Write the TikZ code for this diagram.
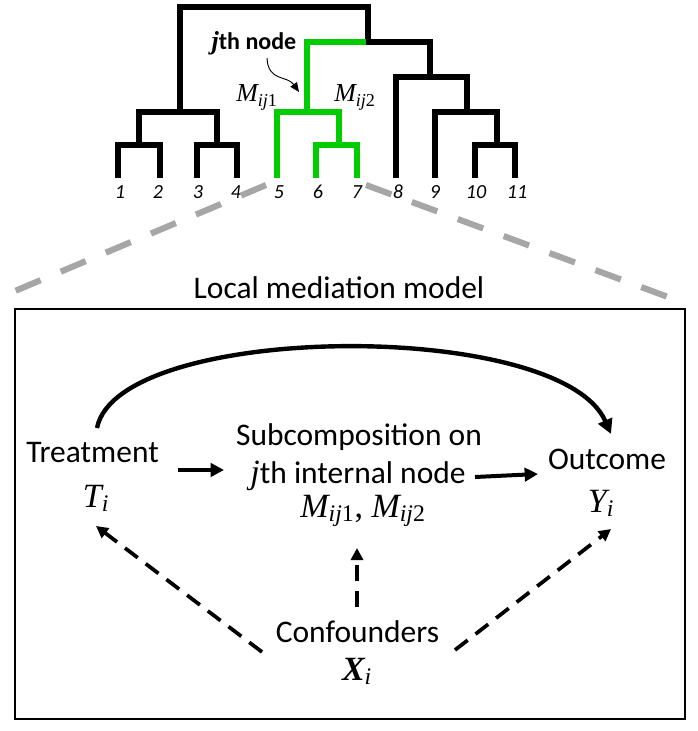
\documentclass[tikz,border=0pt]{standalone}
\usepackage{amsmath}
\usepackage{fontspec}
\setmainfont{Carlito}
\newfontfamily\libserif[Scale=1.08]{Liberation Serif}
\newcommand{\mvar}[1]{\text{\libserif\itshape #1}}
\newcommand{\mnum}[1]{\text{\libserif\upshape #1}}
\newcommand{\mbvar}[1]{\text{\libserif\bfseries\itshape #1}}
\usetikzlibrary{arrows.meta}
\definecolor{treegreen}{RGB}{0,204,0}
\definecolor{zoomgray}{RGB}{166,166,166}
\tikzset{
  branch/.style={line width=4.2pt, line join=miter},
  blackbranch/.style={branch, black},
  greenbranch/.style={branch, treegreen},
  leaflabel/.style={anchor=base, inner sep=0pt, font=\fontsize{15}{18}\selectfont\itshape},
  treelabel/.style={anchor=base, inner sep=0pt, font=\fontsize{18}{21}\selectfont},
  maintext/.style={anchor=base, inner sep=0pt, font=\fontsize{23.6}{28}\selectfont},
  zoomline/.style={zoomgray, line width=4.6pt, dash pattern=on 20.3pt off 16.4pt},
  modelbox/.style={draw=black, line width=1.6pt},
  solidarrow/.style={line width=3pt, -{Triangle[length=10pt,width=10pt]}},
  dasharrow/.style={line width=2.8pt, dash pattern=on 12pt off 7.5pt, -{Triangle[length=9pt,width=9pt]}},
  thinarrow/.style={line width=0.7pt, -{Triangle[length=7pt,width=6pt]}}
}
\begin{document}
\begin{tikzpicture}[x=0.75pt,y=-0.75pt]
\useasboundingbox (0,0) rectangle (698,731);
\fill[white] (0,0) rectangle (698,731);

% ---------- tree ----------
\draw[blackbranch] (118,178) -- (118,145) -- (160,145) -- (160,178);
\draw[blackbranch] (197,178) -- (197,145) -- (237,145) -- (237,178);
\draw[blackbranch] (139,145) -- (139,112) -- (217,112) -- (217,145);
\draw[blackbranch] (180,112) -- (180,7) -- (368,7) -- (368,42);
\draw[greenbranch] (368,42) -- (307,42) -- (307,112);
\draw[greenbranch] (277,178) -- (277,112) -- (339,112) -- (339,145);
\draw[greenbranch] (316,178) -- (316,145) -- (357,145) -- (357,178);
\draw[blackbranch] (365.5,42) -- (430,42) -- (430,77);
\draw[blackbranch] (396,178) -- (396,77) -- (467,77) -- (467,112);
\draw[blackbranch] (435,178) -- (435,112) -- (497,112) -- (497,145);
\draw[blackbranch] (475,178) -- (475,145) -- (515,145) -- (515,178);

\node[leaflabel] (l1) at (120,198) {1};
\node[leaflabel] (l2) at (158,198) {2};
\node[leaflabel] (l3) at (198,198) {3};
\node[leaflabel] (l4) at (236,198) {4};
\node[leaflabel] (l5) at (279,198) {5};
\node[leaflabel] (l6) at (318,198) {6};
\node[leaflabel] (l7) at (357,198) {7};
\node[leaflabel] (l8) at (398,198) {8};
\node[leaflabel] (l9) at (435,198) {9};
\node[leaflabel] (l10) at (476,198) {10};
\node[leaflabel] (l11) at (517,198) {11};

\node[treelabel] (jnode) at (254,50) {$\mbvar{j}$\textbf{th node}};
\node[treelabel] (m1) at (257,102) {$\mvar{M}_{\mvar{ij}\mnum{1}}$};
\node[treelabel] (m2) at (355,102) {$\mvar{M}_{\mvar{ij}\mnum{2}}$};
\coordinate (cstart) at (267,58);
\coordinate (cend) at (299,92);
\draw[thinarrow] (cstart) .. controls (268,82) and (287,75) .. (cend);

% ---------- zoom lines ----------
\coordinate (zl1) at (266,185);
\coordinate (zl2) at (15,291);
\coordinate (zr1) at (366,185);
\coordinate (zr2) at (668,297);
\draw[zoomline] (zl1) -- (zl2);
\draw[zoomline] (zr1) -- (zr2);

% ---------- box ----------
\node[maintext] (title) at (339,298) {Local mediation model};
\draw[modelbox] (15,309) rectangle (685,719);

\node[maintext] (treat) at (92.5,462) {Treatment};
\node[maintext] (ti) at (96,507) {$\mvar{T}_{\mvar{i}}$};
\node[maintext] (sub1) at (359,445) {Subcomposition on};
\node[maintext] (sub2) at (358,483) {$\mvar{j}$th internal node};
\node[maintext] (sub3) at (363,517) {$\mvar{M}_{\mvar{ij}\mnum{1}}\mnum{, }\mvar{M}_{\mvar{ij}\mnum{2}}$};
\node[maintext] (outc) at (607,469) {Outcome};
\node[maintext] (yi) at (601,512) {$\mvar{Y}_{\mvar{i}}$};
\node[maintext] (conf) at (357.5,642) {Confounders};
\node[maintext] (xi) at (357,680) {$\mbvar{X}_{\mvar{i}}$};

\coordinate (a1s) at (178,470);
\coordinate (a1e) at (224,470);
\coordinate (a2s) at (475,477);
\coordinate (a2e) at (538,474);
\coordinate (arcs) at (97,428);
\coordinate (arce) at (611,434);
\coordinate (d1s) at (262,652);
\coordinate (d1e) at (96,526);
\coordinate (d2s) at (357,607);
\coordinate (d2e) at (357,548);
\coordinate (d3s) at (455,650);
\coordinate (d3e) at (611,529);

\draw[solidarrow] (a1s) -- (a1e);
\draw[solidarrow] (a2s) -- (a2e);
\draw[line width=3.3pt, -{Triangle[length=11pt,width=11pt]}] (arcs) .. controls (118,322) and (560,318) .. (arce);
\draw[dasharrow] (d1s) -- (d1e);
\draw[dasharrow] (d2s) -- (d2e);
\draw[dasharrow] (d3s) -- (d3e);
\end{tikzpicture}
\end{document}
